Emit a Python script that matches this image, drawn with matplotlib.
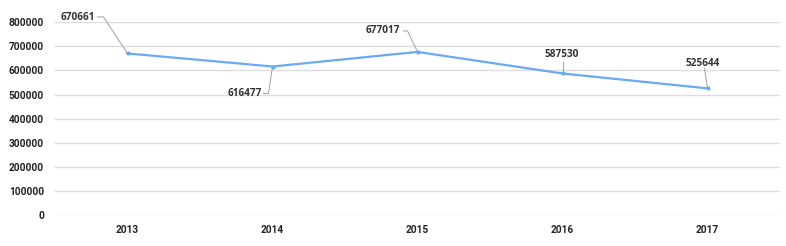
import matplotlib.pyplot as plt
import matplotlib.transforms as mtransforms

years = ['2013', '2014', '2015', '2016', '2017']
values = [670661, 616477, 677017, 587530, 525644]
yticks = [0, 100000, 200000, 300000, 400000, 500000, 600000, 700000, 800000]

# label placement, in pixels relative to each point (y up)
label_pos = [(-32, 36, 'right'), (-11, -27, 'right'), (-17, 21, 'right'),
             (-1, 19, 'center'), (-5, 25, 'center')]
leaders = [
    [(-30, 36.5), (-24, 36.5), (0, 0)],
    [(-9, -27), (-4, -27), (0, 0)],
    [(-14, 21), (-10, 21), (0, 0)],
    [(0, 11), (0, 0)],
    [(-3, 20), (0, 0)],
]

fig = plt.figure(figsize=(7.86, 2.46), dpi=100)
ax = fig.add_axes([55 / 786, 31 / 246, 725 / 786, 192.7 / 246])

xs = list(range(len(years)))
ax.plot(xs, values, color='#6aa9f4', lw=1.6, marker='o', ms=2, zorder=3)

ax.set_xlim(-0.5, 4.5)
ax.set_ylim(0, 800000)
ax.set_yticks(yticks)
ax.set_yticklabels([str(v) for v in yticks])
ax.set_xticks(xs)
ax.set_xticklabels(years)
ax.grid(axis='y', color='#dddddd', lw=1)
ax.set_axisbelow(True)
for s in ax.spines.values():
    s.set_visible(False)
ax.tick_params(length=0, labelsize=7.3, colors='#222222')
ax.tick_params(axis='y', pad=8)
ax.tick_params(axis='x', pad=7)
for lab in ax.get_xticklabels() + ax.get_yticklabels():
    lab.set_fontfamily('Roboto')
    lab.set_fontweight('bold')

for i, v in enumerate(values):
    dx, dy, ha = label_pos[i]
    ax.annotate(str(v), xy=(i, v), xytext=(dx, dy), textcoords='offset pixels',
                ha=ha, va='center', fontsize=7.2, fontweight='bold',
                family='Open Sans', color='#333333', annotation_clip=False)
    tr = mtransforms.ScaledTranslation(i, v, ax.transData)
    pts = leaders[i]
    ax.plot([p[0] for p in pts], [p[1] for p in pts], color='#aaaaaa', lw=0.8,
            transform=mtransforms.Affine2D() + tr, clip_on=False, zorder=2)

fig.savefig('out.png', dpi=100)
